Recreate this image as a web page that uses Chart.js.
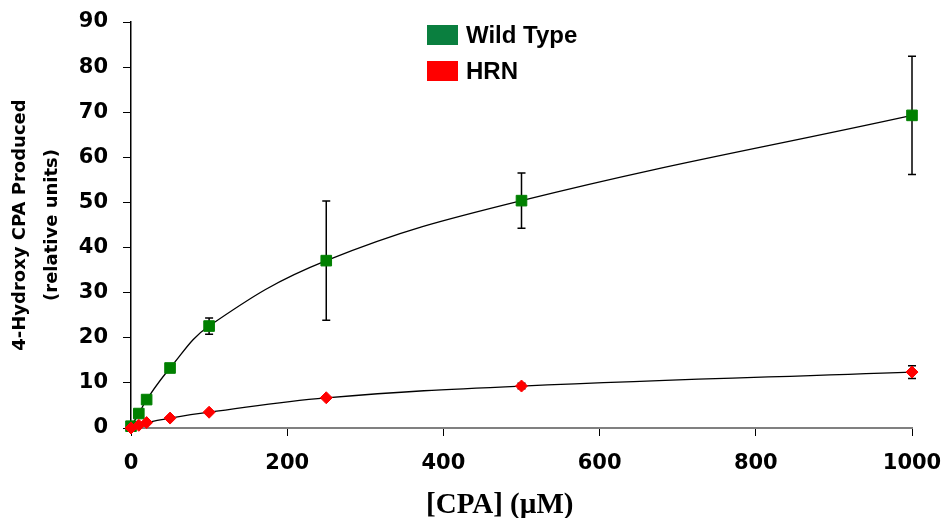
<!DOCTYPE html>
<html><head><meta charset="utf-8">
<script src="https://cdn.jsdelivr.net/npm/chart.js@4.4.0/dist/chart.umd.min.js"></script>
<style>html,body{margin:0;padding:0;background:#fff}#wrap{width:948px;height:518px}</style>
</head><body><div id="wrap"><canvas id="c" width="948" height="518"></canvas></div>
<script>
// ---- data ----
const concentrations = [0, 10, 20, 50, 100, 250, 500, 1000];
const wildTypeValues = [0.4, 3.2, 6.3, 13.3, 22.6, 37.1, 50.4, 69.3];
const wildTypeErrors = [0, 0, 0, 0.7, 1.8, 13.2, 6.1, 13.1];
const hrnValues = [0, 0.6, 1.2, 2.2, 3.5, 6.7, 9.3, 12.4];
const hrnErrors = [0, 0, 0, 0, 0, 0, 0.6, 1.4];
const seriesNames = ['Wild Type', 'HRN'];
const xTickValues = [0, 200, 400, 600, 800, 1000];
const yTickValues = [0, 10, 20, 30, 40, 50, 60, 70, 80, 90];
const xTitle = '[CPA] (µM)';
const yTitle = ['4-Hydroxy CPA Produced', '(relative units)'];

const toPoints = (xs, ys) => xs.map((x, i) => ({x: x, y: ys[i]}));

const errorBarPlugin = {
  id: 'errorBars',
  beforeDatasetsDraw(chart) {
    const ctx = chart.ctx, xs = chart.scales.x, ys = chart.scales.y;
    ctx.save();
    ctx.strokeStyle = '#000';
    ctx.lineWidth = 1.5;
    chart.data.datasets.forEach(ds => {
      if (!ds.errors) return;
      ds.data.forEach((p, i) => {
        const e = ds.errors[i];
        if (!e) return;
        const x = xs.getPixelForValue(p.x);
        const y1 = ys.getPixelForValue(p.y + e);
        const y2 = ys.getPixelForValue(p.y - e);
        ctx.beginPath();
        ctx.moveTo(x, y1); ctx.lineTo(x, y2);
        ctx.moveTo(x - 4, y1); ctx.lineTo(x + 4, y1);
        ctx.moveTo(x - 4, y2); ctx.lineTo(x + 4, y2);
        ctx.stroke();
      });
    });
    ctx.restore();
  }
};

const boxLegendPlugin = {
  id: 'boxLegend',
  afterDraw(chart) {
    const ctx = chart.ctx;
    ctx.save();
    ctx.font = 'bold 24px "Liberation Sans", Arial, sans-serif';
    ctx.textBaseline = 'middle';
    ctx.textAlign = 'left';
    chart.data.datasets.forEach((ds, i) => {
      const y = 35 + i * 36;
      ctx.fillStyle = ds.legendColor;
      ctx.fillRect(427, y - 10, 31, 20);
      ctx.fillStyle = '#000';
      ctx.fillText(ds.label, 466, y + 1);
    });
    ctx.restore();
  }
};

const tickFont = {family: '"DejaVu Sans", Verdana, sans-serif', size: 21, weight: 'bold'};

new Chart(document.getElementById('c'), {
  type: 'line',
  data: {
    datasets: [
      {
        label: seriesNames[0],
        data: toPoints(concentrations, wildTypeValues),
        errors: wildTypeErrors,
        legendColor: '#0a7f3f',
        borderColor: '#000',
        borderWidth: 1.3,
        backgroundColor: '#008000',
        pointBackgroundColor: '#008000',
        pointBorderColor: '#008000',
        pointBorderWidth: 1,
        pointStyle: 'rect',
        pointRadius: 7.5,
        tension: 0.4,
        clip: false,
        order: 1
      },
      {
        label: seriesNames[1],
        data: toPoints(concentrations, hrnValues),
        errors: hrnErrors,
        legendColor: '#ff0000',
        borderColor: '#000',
        borderWidth: 1.3,
        backgroundColor: '#ff0000',
        pointBackgroundColor: '#ff0000',
        pointBorderColor: '#ff0000',
        pointBorderWidth: 1,
        pointStyle: 'rectRot',
        pointRadius: 6,
        tension: 0.4,
        clip: false,
        order: 0
      }
    ]
  },
  options: {
    responsive: false,
    animation: false,
    devicePixelRatio: 1,
    layout: {padding: {top: 22, right: 36, bottom: 0, left: 0}},
    plugins: {legend: {display: false}, tooltip: {enabled: false}},
    scales: {
      x: {
        type: 'linear',
        min: 0, max: 1000,
        afterBuildTicks: s => { s.ticks = xTickValues.map(v => ({value: v})); },
        afterFit: s => { s.height = 90; s.paddingLeft = 0; s.paddingRight = 0; },
        ticks: {font: tickFont, color: '#000', padding: 15, maxRotation: 0, callback: v => String(v)},
        grid: {drawOnChartArea: false, drawTicks: true, tickLength: 8, color: '#000', lineWidth: 1},
        border: {color: '#808080', width: 2},
        title: {
          display: true,
          text: xTitle + '\u00a0\u00a0\u00a0\u00a0\u00a0\u00a0',
          color: '#000',
          font: {family: '"Liberation Serif", "Times New Roman", serif', size: 29, weight: 'bold', lineHeight: 0.85},
          padding: 0
        }
      },
      y: {
        type: 'linear',
        min: 0, max: 90,
        afterBuildTicks: s => { s.ticks = yTickValues.map(v => ({value: v})); },
        afterFit: s => { s.width = 131; s.paddingTop = 0; s.paddingBottom = 0; },
        ticks: {font: tickFont, color: '#000', padding: 15, callback: v => String(v)},
        grid: {drawOnChartArea: false, drawTicks: true, tickLength: 8, color: '#000', lineWidth: 1},
        border: {color: '#000', width: 1.5},
        title: {
          display: true,
          text: yTitle,
          color: '#000',
          font: {family: '"DejaVu Sans", Verdana, sans-serif', size: 18, weight: 'bold', lineHeight: 1.75},
          padding: {top: 5, bottom: 0}
        }
      }
    }
  },
  plugins: [errorBarPlugin, boxLegendPlugin]
});
</script>
</body></html>
